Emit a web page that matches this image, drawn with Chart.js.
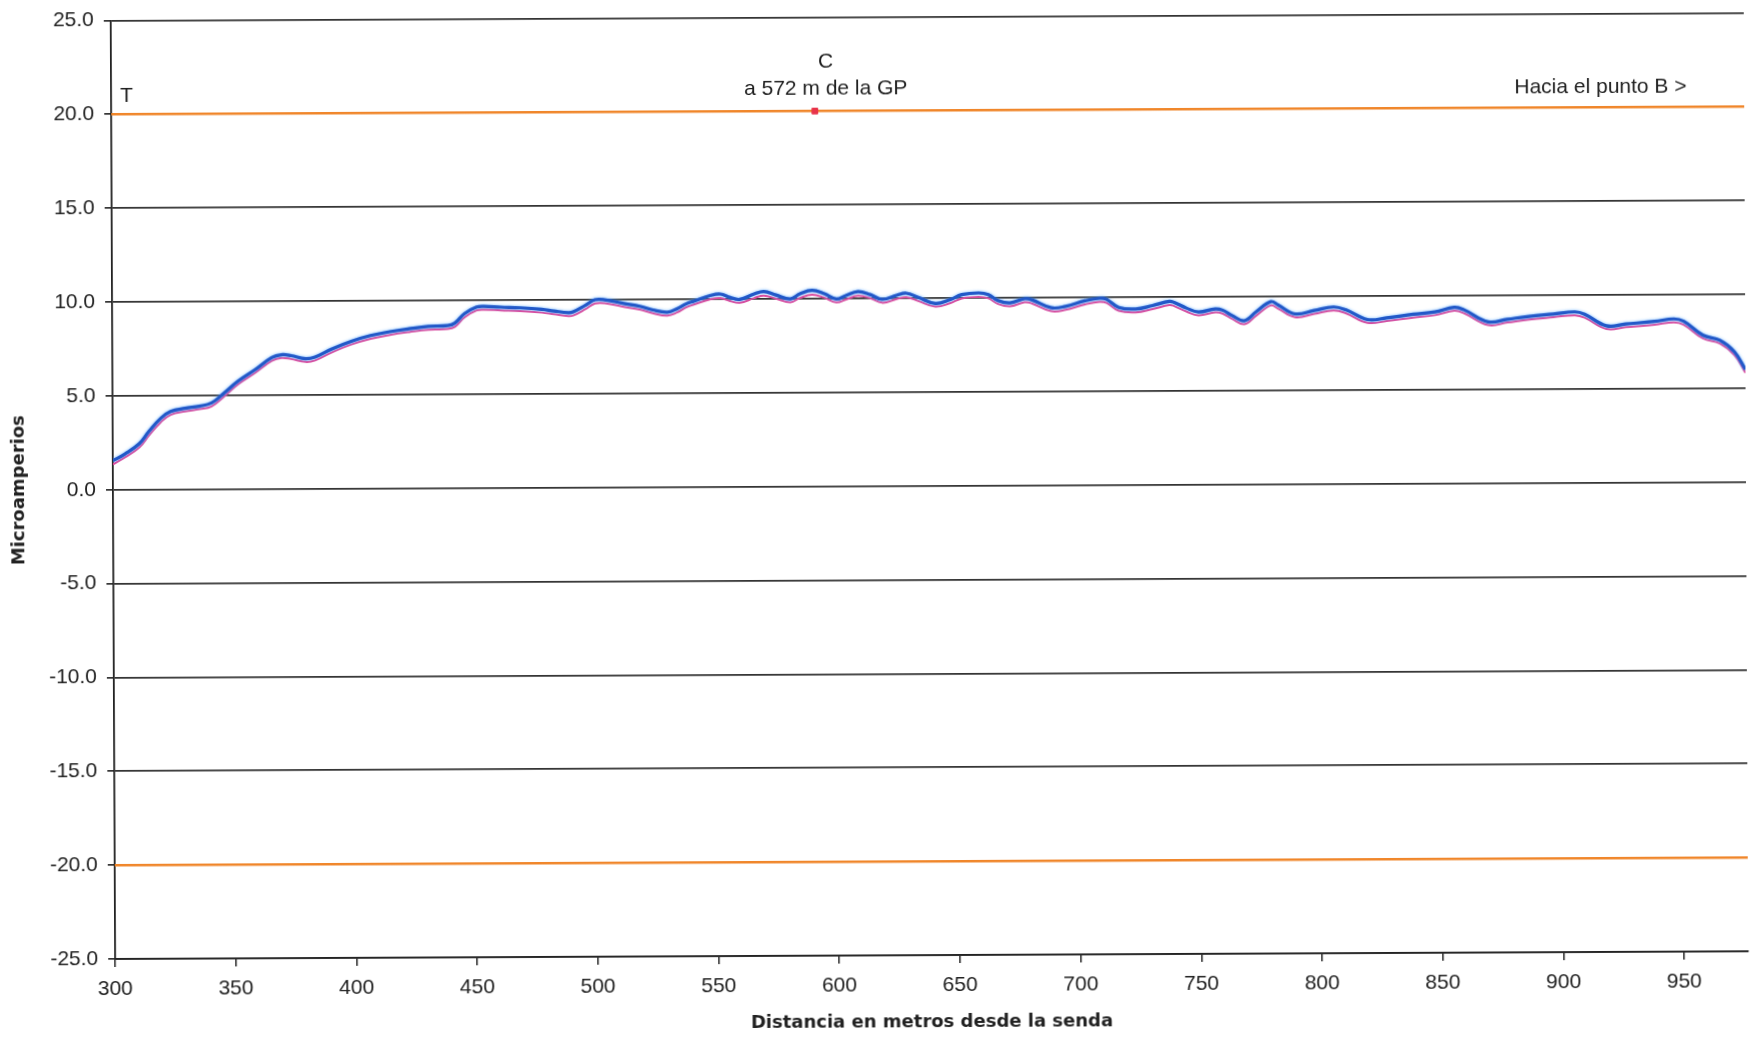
<!DOCTYPE html>
<html>
<head>
<meta charset="utf-8">
<script src="https://cdn.jsdelivr.net/npm/chart.js@4.4.1/dist/chart.umd.min.js"></script>
<style>
html,body{margin:0;padding:0;background:#fff;overflow:hidden;width:1751px;height:1037px;}
#wrap{position:absolute;left:0;top:0;width:1751px;height:1037px;transform:rotate(-0.27deg);transform-origin:113px 489px;}
canvas{display:block;}
</style>
</head>
<body>
<div id="wrap"><canvas id="c" width="1751" height="1037"></canvas></div>
<script>
// ---- data ----
const distances = [
  300,305,311,315,320,324,330,336,341,346,
  352,359,366,370,374,380,384,391,399,407,
  415,423,431,439,442,446,451,454,461,469,
  478,483,489,491,496,500,504,511,519,524,
  530,534,538,541,548,552,556,560,566,570,
  575,581,585,590,595,600,604,609,614,619,
  625,629,634,641,647,652,659,663,667,672,
  678,681,689,695,703,709,712,717,724,731,
  738,740,745,750,757,760,764,769,774,780,
  783,790,798,806,811,820,828,839,848,856,
  860,870,878,887,897,906,910,919,927,939,
  947,951,959,966,972,976.5
];
const seriesBlue = [
  1.55,1.90,2.45,3.10,3.80,4.15,4.32,4.43,4.60,5.10,
  5.75,6.35,7.00,7.15,7.10,6.93,7.02,7.45,7.85,8.15,
  8.35,8.50,8.62,8.66,8.80,9.30,9.64,9.68,9.63,9.59,
  9.50,9.41,9.32,9.36,9.70,10.00,10.00,9.82,9.63,9.44,
  9.32,9.50,9.77,9.90,10.20,10.27,10.09,9.98,10.27,10.40,
  10.21,10.00,10.27,10.45,10.27,9.98,10.16,10.37,10.21,9.95,
  10.16,10.27,10.04,9.72,9.91,10.18,10.27,10.18,9.86,9.73,
  9.95,9.89,9.46,9.53,9.82,9.95,9.89,9.46,9.37,9.55,
  9.77,9.71,9.41,9.20,9.36,9.29,9.00,8.72,9.20,9.73,
  9.55,9.07,9.25,9.43,9.28,8.75,8.84,9.02,9.14,9.38,
  9.25,8.60,8.73,8.88,9.00,9.11,8.98,8.36,8.45,8.58,
  8.71,8.58,7.83,7.56,6.94,6.00
];
const seriesPink = [
  1.35,1.72,2.25,2.88,3.60,3.98,4.15,4.27,4.42,4.92,
  5.58,6.18,6.82,6.98,6.92,6.76,6.84,7.27,7.68,7.98,
  8.18,8.33,8.45,8.48,8.60,9.10,9.46,9.50,9.46,9.42,
  9.33,9.24,9.14,9.17,9.50,9.80,9.82,9.64,9.46,9.27,
  9.14,9.30,9.58,9.72,10.00,10.05,9.90,9.80,10.05,10.18,
  10.02,9.82,10.05,10.22,10.06,9.80,9.95,10.15,10.02,9.77,
  9.96,10.06,9.85,9.55,9.72,9.98,10.06,9.98,9.68,9.55,
  9.76,9.70,9.28,9.35,9.63,9.76,9.70,9.28,9.19,9.36,
  9.58,9.52,9.23,9.02,9.18,9.11,8.82,8.54,9.00,9.53,
  9.36,8.90,9.07,9.25,9.10,8.58,8.67,8.85,8.97,9.20,
  9.07,8.43,8.56,8.71,8.83,8.93,8.80,8.19,8.28,8.41,
  8.53,8.40,7.66,7.38,6.76,5.82
];
const limitX = [300, 976.5];
const limitUpper = [20, 20];
const limitLower = [-20, -20];
const markerX = [591.5];
const markerY = [20];
const xTickValues = [300,350,400,450,500,550,600,650,700,750,800,850,900,950];
const yTickValues = [-25,-20,-15,-10,-5,0,5,10,15,20,25];
const annotationTexts = ['T', 'C', 'a 572 m de la GP', 'Hacia el punto B >'];
const annotationX = [300, 591.5, 591.5, 917];
const annotationY = [20, 20, 20, 20];
const xTitle = 'Distancia en metros desde la senda';
const yTitle = 'Microamperios';

// ---- build datasets ----
const toPoints = (xs, ys) => xs.map((x, i) => ({x: x, y: ys[i]}));

const labelPlugin = {
  id: 'labelPlugin',
  beforeDatasetDraw(chart, args) {
    const ds = chart.data.datasets[args.index];
    if (ds.halo) {
      chart.ctx.save();
      chart.ctx.shadowColor = ds.halo;
      chart.ctx.shadowBlur = 3;
    }
  },
  afterDatasetDraw(chart, args) {
    const ds = chart.data.datasets[args.index];
    if (ds.halo) chart.ctx.restore();
  },
  afterDatasetsDraw(chart) {
    const {ctx, scales} = chart;
    const offs = [
      {dx: 9, dy: -18, align: 'left'},
      {dx: 11, dy: -49, align: 'center'},
      {dx: 11, dy: -22, align: 'center'},
      {dx: 0, dy: -20, align: 'center'}
    ];
    ctx.save();
    ctx.font = '21px "Liberation Sans", Arial, sans-serif';
    ctx.fillStyle = '#1e1e1e';
    ctx.textBaseline = 'middle';
    annotationTexts.forEach((t, i) => {
      const px = scales.x.getPixelForValue(annotationX[i]);
      const py = scales.y.getPixelForValue(annotationY[i]);
      ctx.textAlign = offs[i].align;
      ctx.fillText(t, px + offs[i].dx, py + offs[i].dy);
    });
    ctx.restore();
  }
};

new Chart(document.getElementById('c'), {
  type: 'line',
  data: {
    datasets: [
      {label: 'C', data: toPoints(markerX, markerY), showLine: false, pointStyle: 'rect',
       pointRadius: 4, backgroundColor: '#e8334a', borderColor: '#e8334a', order: 0},
      {label: 'blue', data: toPoints(distances, seriesBlue), borderColor: '#2258c8', borderWidth: 3.2,
       pointRadius: 0, tension: 0.4, order: 1, halo: 'rgba(90,170,255,0.9)'},
      {label: 'pink', data: toPoints(distances, seriesPink), borderColor: '#e0489a', borderWidth: 2,
       pointRadius: 0, tension: 0.4, order: 2},
      {label: 'upper', data: toPoints(limitX, limitUpper), borderColor: '#f0862a', borderWidth: 2.5,
       pointRadius: 0, order: 3},
      {label: 'lower', data: toPoints(limitX, limitLower), borderColor: '#f0862a', borderWidth: 2.5,
       pointRadius: 0, order: 3}
    ]
  },
  options: {
    responsive: false,
    devicePixelRatio: 1,
    animation: false,
    layout: {padding: {top: 17, right: 0, bottom: 0, left: 0}},
    plugins: {legend: {display: false}, tooltip: {enabled: false}},
    scales: {
      x: {
        type: 'linear', min: 300, max: 976.5,
        afterBuildTicks: s => { s.ticks = xTickValues.map(v => ({value: v})); },
        afterFit: s => { s.height = 78; },
        grid: {drawOnChartArea: false, drawTicks: true, tickLength: 8, color: '#222', lineWidth: 1.5},
        border: {display: true, color: '#222', width: 1.8},
        ticks: {padding: 10, color: '#222', font: {family: '"Liberation Sans", Arial, sans-serif', size: 21},
                maxRotation: 0, autoSkip: false, callback: v => String(v)},
        title: {display: true, text: xTitle, color: '#222', padding: {top: 0, bottom: 0},
                font: {family: '"DejaVu Sans", Verdana, sans-serif', size: 18, weight: 'bold'}}
      },
      y: {
        type: 'linear', min: -25, max: 25,
        afterBuildTicks: s => { s.ticks = yTickValues.map(v => ({value: v})); },
        afterFit: s => { s.width = 113; },
        grid: {drawOnChartArea: true, drawTicks: true, tickLength: 7, color: '#333', lineWidth: 1.7},
        border: {display: true, color: '#222', width: 1.8},
        ticks: {padding: 10, color: '#222',
                font: {family: '"Liberation Sans", Arial, sans-serif', size: 21, lineHeight: 1},
                callback: v => Number(v).toFixed(1)},
        title: {display: true, text: yTitle, color: '#222', padding: {top: 9, bottom: 0},
                font: {family: '"DejaVu Sans", Verdana, sans-serif', size: 18, weight: 'bold'}}
      }
    }
  },
  plugins: [labelPlugin]
});
</script>
</body>
</html>
